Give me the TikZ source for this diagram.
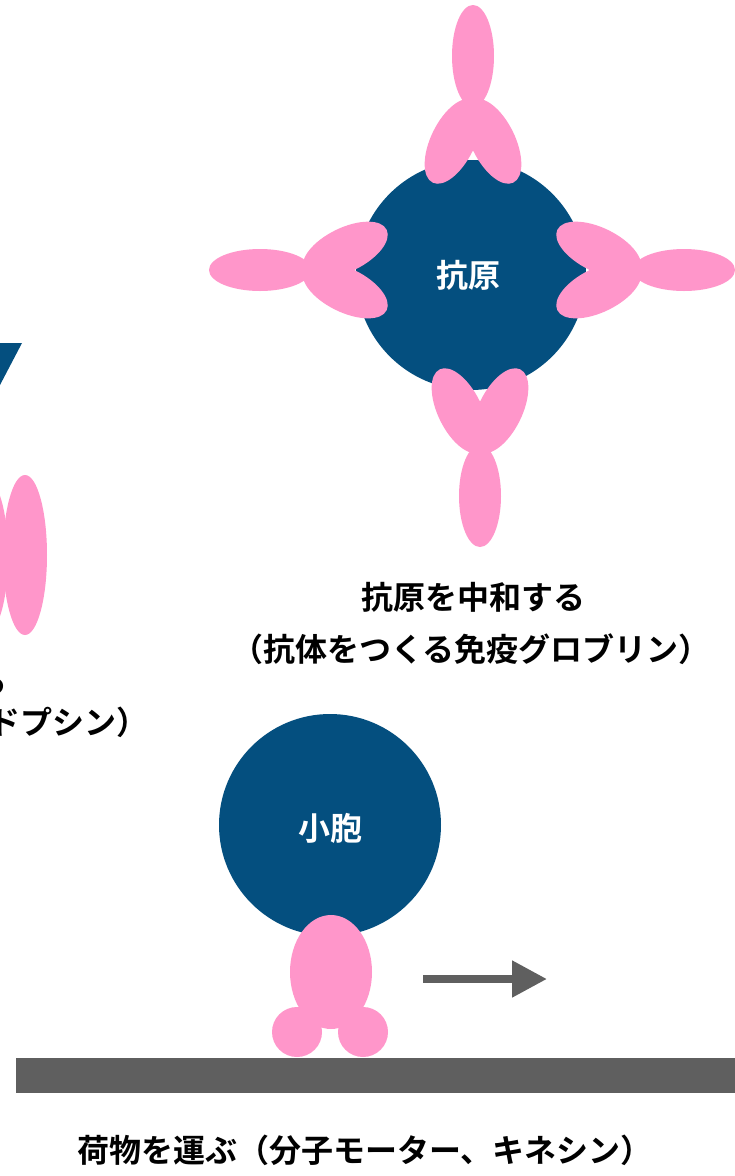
\documentclass[tikz,border=0pt]{standalone}
\usepackage{fontspec}
\usetikzlibrary{arrows.meta}
\newfontfamily\jpfont{Noto Sans CJK JP}[BoldFont={Noto Sans CJK JP Bold}]
\definecolor{navy}{HTML}{044F7F}
\definecolor{rose}{HTML}{FF96CA}
\definecolor{rail}{HTML}{5F5F5F}
\tikzset{
  lbl/.style={font=\jpfont\bfseries\fontsize{32bp}{36bp}\selectfont, inner sep=0pt, text=black},
  inlbl/.style={lbl, text=white},
  % Y-shaped antibody: stem along local +y, the two arms meet at the origin
  antibody/.pic={
    \begin{scope}[x=1bp,y=1bp]
      \fill[rose, rotate around={64:(-20.1,-41.3)}] (-20.1,-41.3) ellipse [x radius=46bp, y radius=22bp];
      \fill[rose, rotate around={-64:(20.1,-41.3)}] (20.1,-41.3) ellipse [x radius=46bp, y radius=22bp];
      \fill[rose] (0,44) ellipse [x radius=21bp, y radius=51bp];
    \end{scope}
  }
}
\begin{document}
\begin{tikzpicture}[x=1bp,y=-1bp]
  \fill[white] (0,0) rectangle (735,1176);
  \useasboundingbox (0,0) rectangle (735,1176);

  % rhodopsin (left, partly outside the frame)
  \fill[navy] (-20,343) -- (22,343) -- (0,385) -- (-20,385) -- cycle;
  \fill[rose] (-14,556) ellipse [x radius=22bp, y radius=78bp];
  \fill[rose] (25,555) ellipse [x radius=22bp, y radius=80bp];
  \node[lbl, anchor=east] (rhoA) at (7.5,682) {る};
  \node[lbl, anchor=east] (rhoB) at (149,722) {（ロドプシン）};

  % antigen with four antibodies
  \fill[navy] (471,275) circle [radius=115bp];
  \node[inlbl] (antigen) at (468,275) {抗原};
  \pic[rotate=0] at (473,100) {antibody};
  \pic[rotate=90] at (304,270) {antibody};
  \pic[rotate=-90] at (640,270) {antibody};
  \pic[rotate=180] at (480,452) {antibody};
  \node[lbl] (abA) at (473.5,597) {抗原を中和する};
  \node[lbl] (abB) at (471,649) {（抗体をつくる免疫グロブリン）};

  % kinesin carrying a vesicle along a track
  \fill[navy] (330,825) circle [radius=111bp];
  \node[inlbl] (vesicle) at (330,828) {小胞};
  \fill[rose] (331,972) ellipse [x radius=41bp, y radius=57bp];
  \fill[rose] (297,1032) ellipse [x radius=25bp, y radius=25bp];
  \fill[rose] (363,1032) ellipse [x radius=25bp, y radius=25bp];
  \fill[rail] (16,1058) rectangle (740,1093);
  \coordinate (mvA) at (423,979);
  \coordinate (mvB) at (547,979);
  \draw[rail, line width=8bp, -{Triangle[length=35bp,width=35bp]}] (mvA) -- (mvB);
  \node[lbl] (kin) at (365,1150) {荷物を運ぶ（分子モーター、キネシン）};
\end{tikzpicture}
\end{document}
